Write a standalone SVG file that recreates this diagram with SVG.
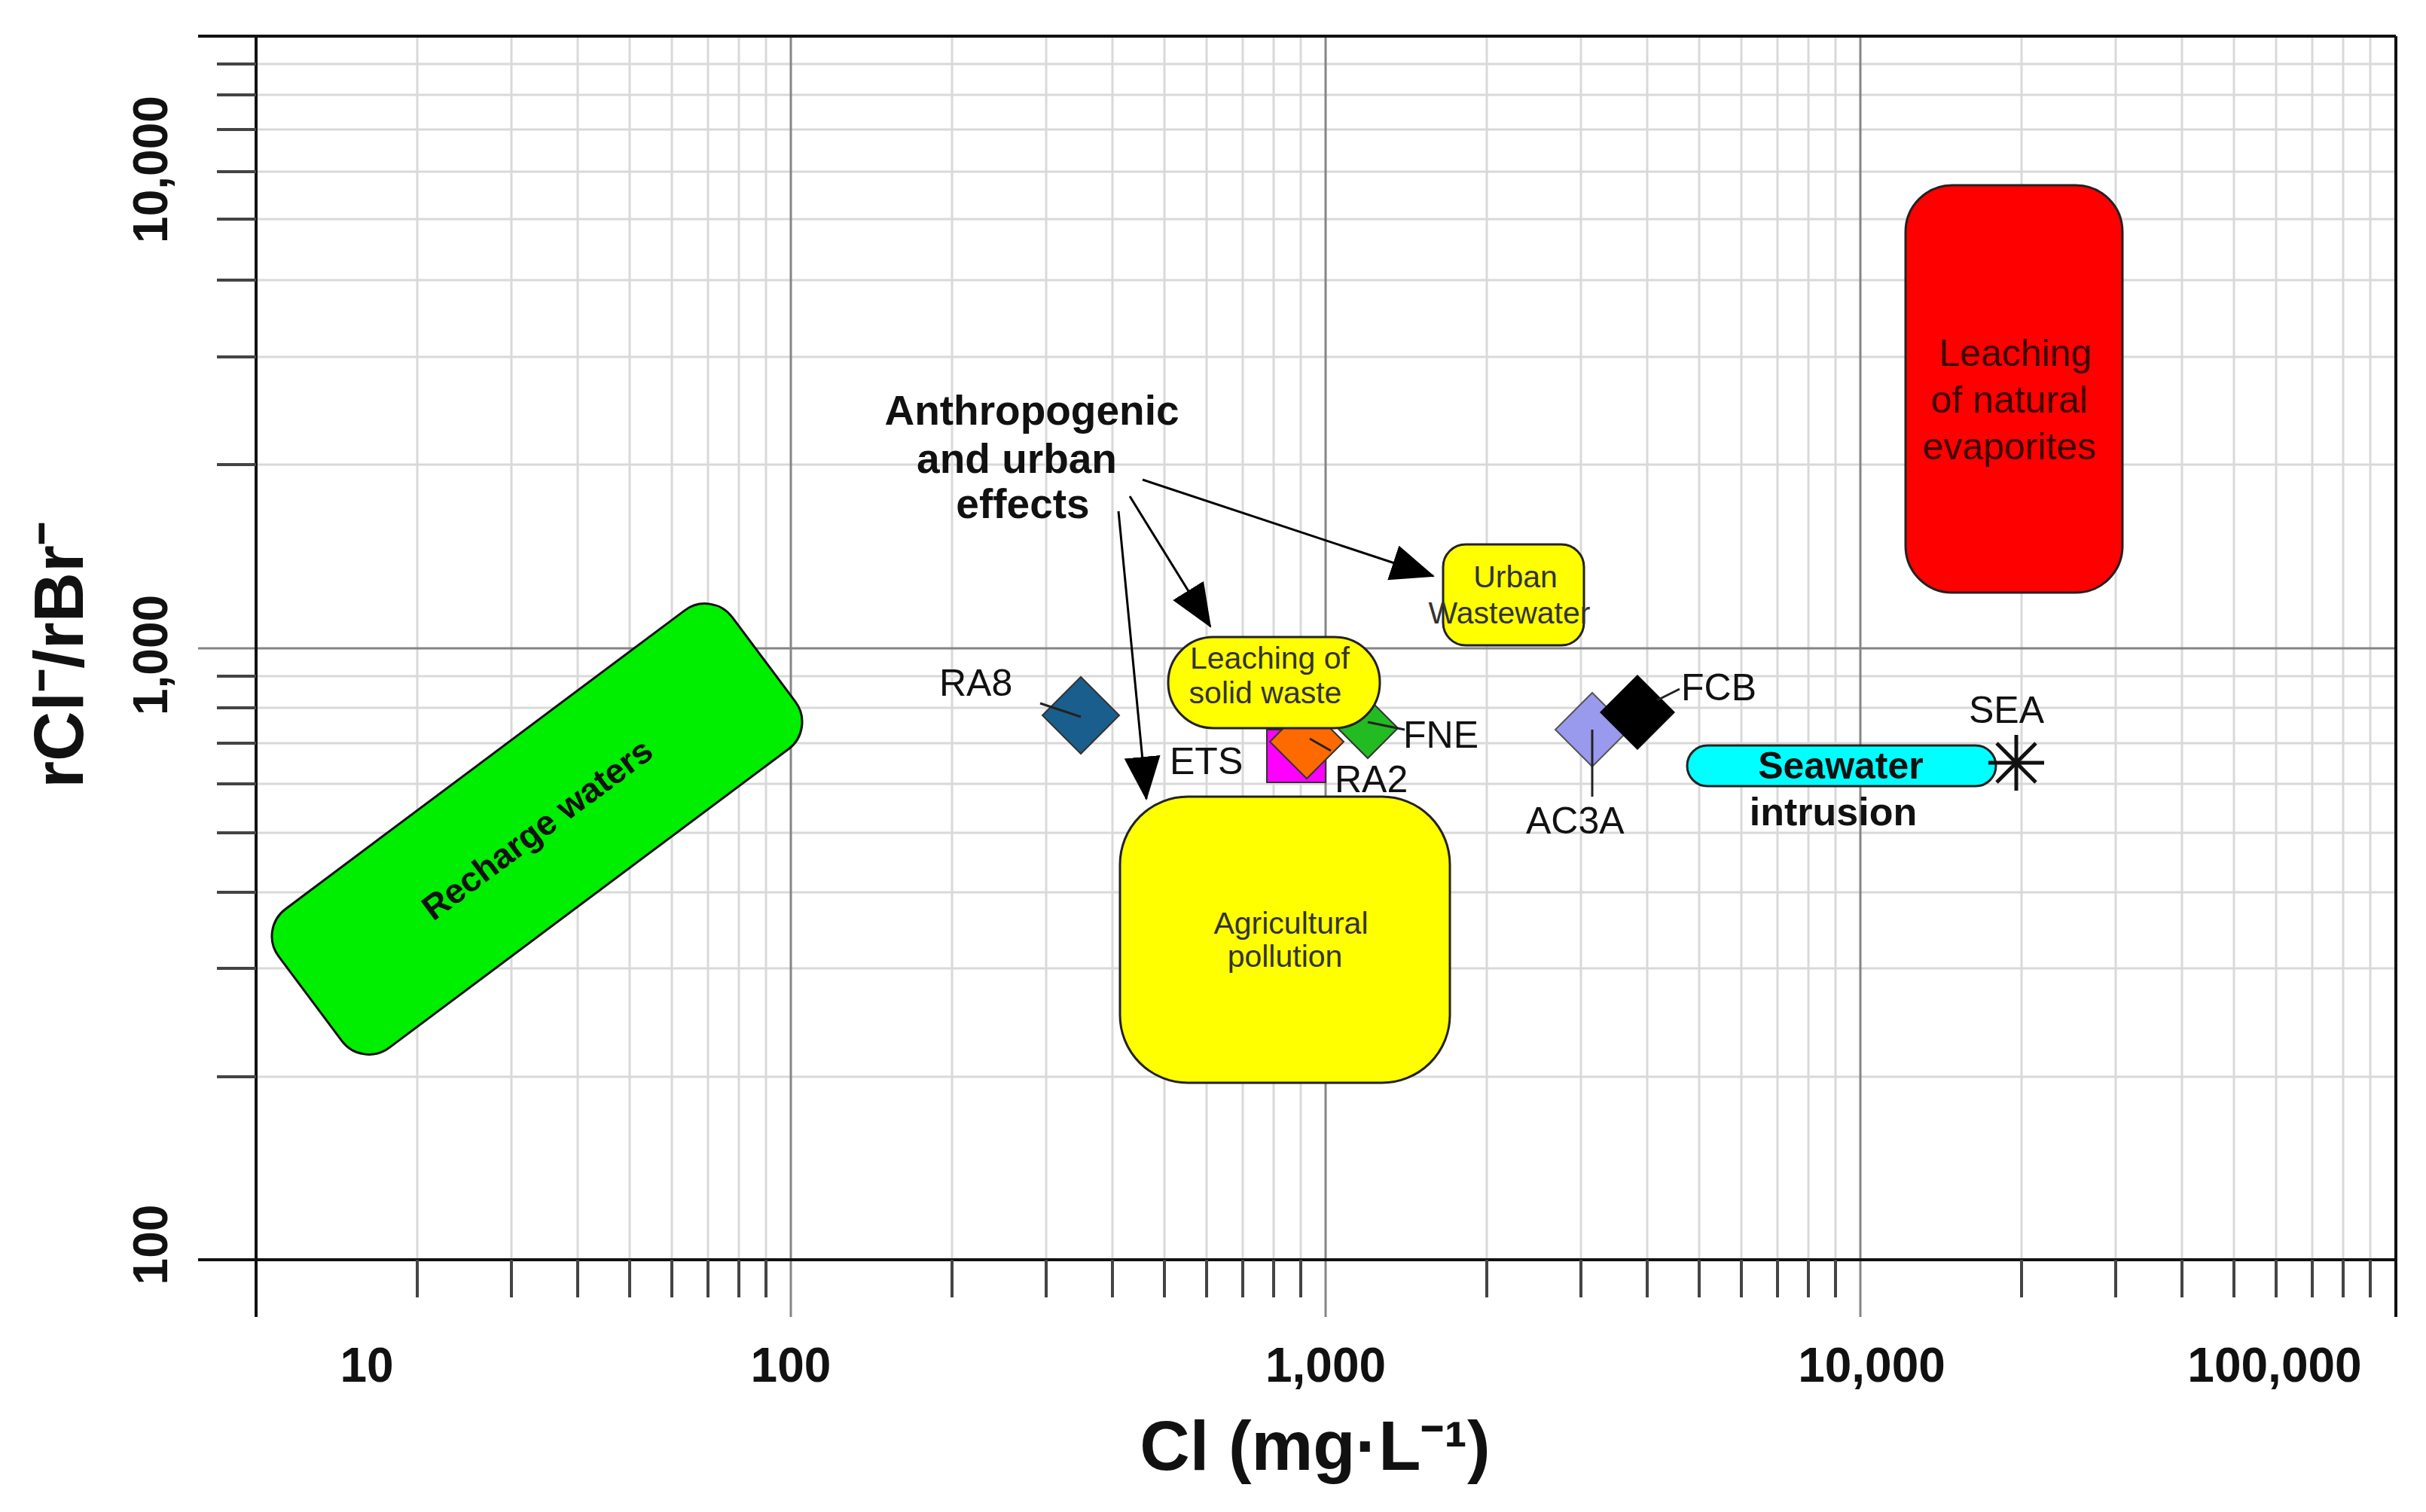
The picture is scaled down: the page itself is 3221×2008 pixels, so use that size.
<svg xmlns="http://www.w3.org/2000/svg" width="3221" height="2008" viewBox="0 0 3221 2008">
<style>
.minor{stroke:#d9d9d9;stroke-width:3}
.major{stroke:#858585;stroke-width:3}
.ax{stroke:#111;stroke-width:4}
.tk{stroke:#444;stroke-width:4}
.t{font-family:"Liberation Sans",Arial,sans-serif}
.lab{font-family:"Liberation Sans",Arial,sans-serif;font-size:50px;fill:#111}
.box{font-family:"Liberation Sans",Arial,sans-serif;font-size:41px;fill:#333;text-anchor:middle}
.tick{font-family:"Liberation Sans",Arial,sans-serif;font-size:64px;font-weight:bold;fill:#111;text-anchor:middle}
.arr{stroke:#000;stroke-width:3;fill:none;marker-end:url(#ah)}
.lead{stroke:#222;stroke-width:3}
</style>
<defs>
<marker id="ah" markerUnits="userSpaceOnUse" markerWidth="60" markerHeight="50" refX="56" refY="24" orient="auto"><path d="M0,0 L58,24 L0,48 Z" fill="#000"/></marker>
</defs>
<rect width="3221" height="2008" fill="#fff"/>
<g id="grid">
<!-- vertical minor -->
<g class="minor">
<line x1="554" y1="48" x2="554" y2="1673"/><line x1="679" y1="48" x2="679" y2="1673"/><line x1="767" y1="48" x2="767" y2="1673"/><line x1="836" y1="48" x2="836" y2="1673"/><line x1="892" y1="48" x2="892" y2="1673"/><line x1="940" y1="48" x2="940" y2="1673"/><line x1="981" y1="48" x2="981" y2="1673"/><line x1="1017" y1="48" x2="1017" y2="1673"/>
<line x1="1264" y1="48" x2="1264" y2="1673"/><line x1="1389" y1="48" x2="1389" y2="1673"/><line x1="1477" y1="48" x2="1477" y2="1673"/><line x1="1546" y1="48" x2="1546" y2="1673"/><line x1="1602" y1="48" x2="1602" y2="1673"/><line x1="1650" y1="48" x2="1650" y2="1673"/><line x1="1691" y1="48" x2="1691" y2="1673"/><line x1="1727" y1="48" x2="1727" y2="1673"/>
<line x1="1974" y1="48" x2="1974" y2="1673"/><line x1="2099" y1="48" x2="2099" y2="1673"/><line x1="2187" y1="48" x2="2187" y2="1673"/><line x1="2256" y1="48" x2="2256" y2="1673"/><line x1="2312" y1="48" x2="2312" y2="1673"/><line x1="2360" y1="48" x2="2360" y2="1673"/><line x1="2401" y1="48" x2="2401" y2="1673"/><line x1="2437" y1="48" x2="2437" y2="1673"/>
<line x1="2684" y1="48" x2="2684" y2="1673"/><line x1="2809" y1="48" x2="2809" y2="1673"/><line x1="2897" y1="48" x2="2897" y2="1673"/><line x1="2966" y1="48" x2="2966" y2="1673"/><line x1="3022" y1="48" x2="3022" y2="1673"/><line x1="3070" y1="48" x2="3070" y2="1673"/><line x1="3111" y1="48" x2="3111" y2="1673"/><line x1="3147" y1="48" x2="3147" y2="1673"/>
<!-- horizontal minor -->
<line x1="340" y1="85" x2="3181" y2="85"/><line x1="340" y1="126" x2="3181" y2="126"/><line x1="340" y1="172" x2="3181" y2="172"/><line x1="340" y1="228" x2="3181" y2="228"/><line x1="340" y1="291" x2="3181" y2="291"/><line x1="340" y1="372" x2="3181" y2="372"/><line x1="340" y1="474" x2="3181" y2="474"/><line x1="340" y1="617" x2="3181" y2="617"/>
<line x1="340" y1="898" x2="3181" y2="898"/><line x1="340" y1="940" x2="3181" y2="940"/><line x1="340" y1="987" x2="3181" y2="987"/><line x1="340" y1="1041" x2="3181" y2="1041"/><line x1="340" y1="1106" x2="3181" y2="1106"/><line x1="340" y1="1185" x2="3181" y2="1185"/><line x1="340" y1="1286" x2="3181" y2="1286"/><line x1="340" y1="1430" x2="3181" y2="1430"/>
</g>
<g class="major">
<line x1="1050" y1="48" x2="1050" y2="1749"/><line x1="1760" y1="48" x2="1760" y2="1749"/><line x1="2470" y1="48" x2="2470" y2="1749"/>
<line x1="263" y1="861" x2="3181" y2="861"/>
</g>
<g class="ax">
<line x1="263" y1="48" x2="3181" y2="48"/>
<line x1="340" y1="48" x2="340" y2="1749"/>
<line x1="3181" y1="48" x2="3181" y2="1749"/>
<line x1="263" y1="1673" x2="3181" y2="1673"/>
</g>
<g class="tk">
<line x1="288" y1="85" x2="340" y2="85"/><line x1="288" y1="126" x2="340" y2="126"/><line x1="288" y1="172" x2="340" y2="172"/><line x1="288" y1="228" x2="340" y2="228"/><line x1="288" y1="291" x2="340" y2="291"/><line x1="288" y1="372" x2="340" y2="372"/><line x1="288" y1="474" x2="340" y2="474"/><line x1="288" y1="617" x2="340" y2="617"/>
<line x1="288" y1="898" x2="340" y2="898"/><line x1="288" y1="940" x2="340" y2="940"/><line x1="288" y1="987" x2="340" y2="987"/><line x1="288" y1="1041" x2="340" y2="1041"/><line x1="288" y1="1106" x2="340" y2="1106"/><line x1="288" y1="1185" x2="340" y2="1185"/><line x1="288" y1="1286" x2="340" y2="1286"/><line x1="288" y1="1430" x2="340" y2="1430"/>
<line x1="554" y1="1673" x2="554" y2="1723"/><line x1="679" y1="1673" x2="679" y2="1723"/><line x1="767" y1="1673" x2="767" y2="1723"/><line x1="836" y1="1673" x2="836" y2="1723"/><line x1="892" y1="1673" x2="892" y2="1723"/><line x1="940" y1="1673" x2="940" y2="1723"/><line x1="981" y1="1673" x2="981" y2="1723"/><line x1="1017" y1="1673" x2="1017" y2="1723"/>
<line x1="1264" y1="1673" x2="1264" y2="1723"/><line x1="1389" y1="1673" x2="1389" y2="1723"/><line x1="1477" y1="1673" x2="1477" y2="1723"/><line x1="1546" y1="1673" x2="1546" y2="1723"/><line x1="1602" y1="1673" x2="1602" y2="1723"/><line x1="1650" y1="1673" x2="1650" y2="1723"/><line x1="1691" y1="1673" x2="1691" y2="1723"/><line x1="1727" y1="1673" x2="1727" y2="1723"/>
<line x1="1974" y1="1673" x2="1974" y2="1723"/><line x1="2099" y1="1673" x2="2099" y2="1723"/><line x1="2187" y1="1673" x2="2187" y2="1723"/><line x1="2256" y1="1673" x2="2256" y2="1723"/><line x1="2312" y1="1673" x2="2312" y2="1723"/><line x1="2360" y1="1673" x2="2360" y2="1723"/><line x1="2401" y1="1673" x2="2401" y2="1723"/><line x1="2437" y1="1673" x2="2437" y2="1723"/>
<line x1="2684" y1="1673" x2="2684" y2="1723"/><line x1="2809" y1="1673" x2="2809" y2="1723"/><line x1="2897" y1="1673" x2="2897" y2="1723"/><line x1="2966" y1="1673" x2="2966" y2="1723"/><line x1="3022" y1="1673" x2="3022" y2="1723"/><line x1="3070" y1="1673" x2="3070" y2="1723"/><line x1="3111" y1="1673" x2="3111" y2="1723"/><line x1="3147" y1="1673" x2="3147" y2="1723"/>
</g>
</g>
<g id="axis-labels">
<text class="tick" x="487" y="1835">10</text>
<text class="tick" x="1050" y="1835">100</text>
<text class="tick" x="1760" y="1835">1,000</text>
<text class="tick" x="2485" y="1835">10,000</text>
<text class="tick" x="3020" y="1835">100,000</text>
<text class="tick" transform="translate(222,225) rotate(-90)">10,000</text>
<text class="tick" transform="translate(222,870) rotate(-90)">1,000</text>
<text class="tick" transform="translate(222,1653) rotate(-90)">100</text>
<text class="t" x="1746" y="1952" font-size="92" font-weight="bold" text-anchor="middle" fill="#111">Cl (mg·L⁻¹)</text>
<text class="t" transform="translate(110,870) rotate(-90)" font-size="92" font-weight="bold" text-anchor="middle" fill="#111">rCl⁻/rBr⁻</text>
</g>
<g id="recharge">
<g transform="translate(713,1101) rotate(-36.8)">
<rect x="-376" y="-115" width="752" height="230" rx="45" fill="#00ee00" stroke="#111" stroke-width="3"/>
<text class="t" x="0" y="16" font-size="46" font-weight="bold" text-anchor="middle" fill="#111">Recharge waters</text>
</g>
</g>
<g id="evaporites">
<rect x="2530" y="246" width="288" height="541" rx="62" fill="#ff0000" stroke="#222" stroke-width="3"/>
<text class="t" font-size="50" fill="#3a0000" text-anchor="middle"><tspan x="2676" y="486">Leaching</tspan><tspan x="2668" y="548">of natural</tspan><tspan x="2668" y="610">evaporites</tspan></text>
</g>
<g id="urban">
<rect x="1916" y="723" width="187" height="134" rx="30" fill="#ffff00" stroke="#222" stroke-width="3"/>
<text class="box"><tspan x="2012" y="780">Urban</tspan><tspan x="2004" y="828">Wastewater</tspan></text>
</g>
<g id="agri">
<rect x="1487" y="1058" width="438" height="380" rx="90" fill="#ffff00" stroke="#222" stroke-width="3"/>
<text class="box"><tspan x="1714" y="1240">Agricultural</tspan><tspan x="1706" y="1284">pollution</tspan></text>
</g>
<g id="seawater">
<rect x="2240" y="990" width="410" height="54" rx="27" fill="#00ffff" stroke="#222" stroke-width="3"/>
<text class="t" x="2444" y="1034" font-size="50" font-weight="bold" text-anchor="middle" fill="#111">Seawater</text>
<text class="t" x="2434" y="1096" font-size="52" font-weight="bold" text-anchor="middle" fill="#111">intrusion</text>
</g>
<g id="SEA">
<g stroke="#111" stroke-width="5">
<line x1="2640" y1="1013" x2="2714" y2="1013"/><line x1="2677" y1="976" x2="2677" y2="1050"/><line x1="2651" y1="987" x2="2703" y2="1039"/><line x1="2651" y1="1039" x2="2703" y2="987"/>
</g>
<text class="lab" x="2664" y="960" text-anchor="middle">SEA</text>
</g>
<g id="RA8">
<polygon points="1435,899 1486,950 1435,1001 1384,950" fill="#1a5e8e" stroke="#333" stroke-width="2"/>
<line class="lead" x1="1381" y1="934" x2="1435" y2="952"/>
<text class="lab" x="1247" y="924">RA8</text>
</g>
<g id="RA2">
<rect x="1682" y="969" width="78" height="70" fill="#ff00ff" stroke="#333" stroke-width="2"/>
<polygon points="1735,936 1784,985 1735,1034 1686,985" fill="#ff6a00" stroke="#333" stroke-width="2"/>
<line class="lead" x1="1739" y1="981" x2="1767" y2="997"/>
<text class="lab" x="1772" y="1052">RA2</text>
</g>
<g id="ETS">
<text class="lab" x="1553" y="1028">ETS</text>
</g>
<g id="FNE">
<polygon points="1816,927 1856,967 1816,1007 1776,967" fill="#22bb22" stroke="#333" stroke-width="2"/>
<line class="lead" x1="1816" y1="959" x2="1865" y2="969"/>
<text class="lab" x="1863" y="993">FNE</text>
</g>
<g id="solidwaste">
<rect x="1551" y="846" width="281" height="121" rx="60" fill="#ffff00" stroke="#222" stroke-width="3"/>
<text class="box"><tspan x="1686" y="888">Leaching of</tspan><tspan x="1680" y="934">solid waste</tspan></text>
</g>
<g id="AC3A">
<polygon points="2114,920 2163,969 2114,1018 2065,969" fill="#9999ee" stroke="#555" stroke-width="2"/>
<line class="lead" x1="2114" y1="969" x2="2114" y2="1058"/>
<text class="lab" x="2026" y="1107">AC3A</text>
</g>
<g id="FCB">
<polygon points="2174,896 2224,946 2174,996 2124,946" fill="#000"/>
<line class="lead" x1="2200" y1="930" x2="2230" y2="915"/>
<text class="lab" x="2232" y="930">FCB</text>
</g>
<g id="anthropogenic">
<text class="t" font-size="55" font-weight="bold" text-anchor="middle" fill="#111"><tspan x="1370" y="564">Anthropogenic</tspan><tspan x="1350" y="628">and urban</tspan><tspan x="1358" y="688">effects</tspan></text>
</g>
<g id="connectors">
<line class="arr" x1="1517" y1="637" x2="1903" y2="765"/>
<line class="arr" x1="1500" y1="659" x2="1607" y2="832"/>
<line class="arr" x1="1485" y1="679" x2="1522" y2="1061"/>
</g>
</svg>
